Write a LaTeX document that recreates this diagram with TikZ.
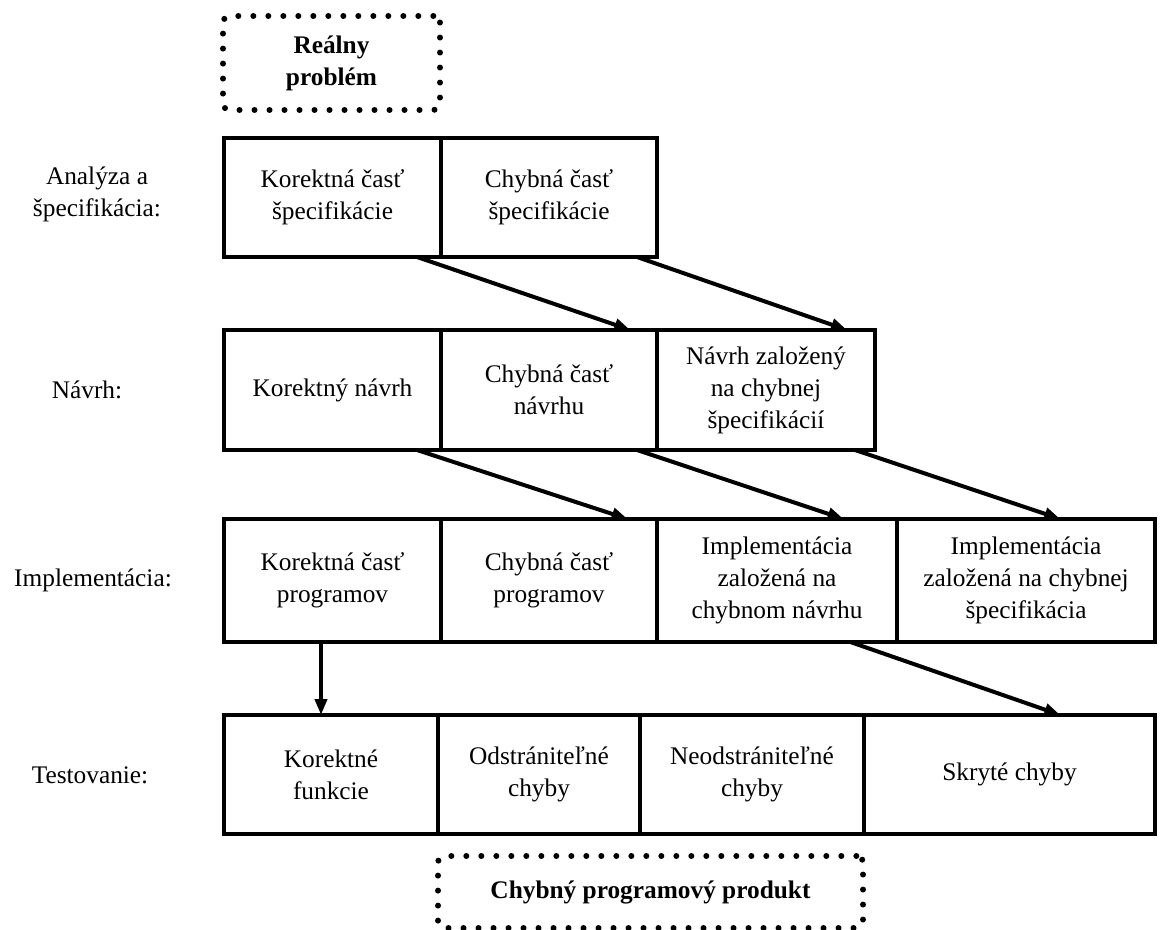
\documentclass[tikz,border=0pt]{standalone}
\usepackage{fontspec}
\setmainfont{Liberation Serif}
\usetikzlibrary{arrows.meta,calc}
% a cell given by its pixel corners: name, x1, y1, x2, y2, text
\newcommand\cellbox[6]{%
  \node[cell, minimum width={(#4-#2)*0.75pt}, minimum height={(#5-#3)*0.75pt}]
    (#1) at ({(#2+#4)/2},{(#3+#5)/2}) {#6};}
\begin{document}
\begin{tikzpicture}[x=0.75pt,y=-0.75pt,
  txt/.style={font=\fontsize{19}{24}\selectfont},
  cell/.style={txt, draw, line width=3pt, outer sep=0pt, inner sep=0pt, align=center},
  lab/.style={txt, align=center},
  dotbox/.style={draw, line width=4.5pt, dash pattern=on 0pt off 11.25pt,
    line cap=round, rounded corners=5pt, outer sep=0pt, inner sep=0pt, align=center,
    font=\fontsize{19}{24}\selectfont\bfseries},
  arr/.style={line width=3pt, -{Triangle[length=12pt,width=9pt]}}]
\useasboundingbox (0,0) rectangle (1165,930);

% starting point and final product
\node[dotbox, minimum width={217*0.75pt}, minimum height={94*0.75pt}] (real) at (331.5,63) {Reálny\\problém};
\node[dotbox, minimum width={425*0.75pt}, minimum height={72*0.75pt}] (prod) at (650.5,892) {Chybný programový produkt};

% phase labels
\node[lab] (l1) at (97,194) {Analýza a\\špecifikácia:};
\node[lab] (l2) at (87,390) {Návrh:};
\node[lab] (l3) at (93,580) {Implementácia:};
\node[lab] (l4) at (90,775) {Testovanie:};

% analysis and specification
\cellbox{a1}{224}{138}{441}{257}{Korektná časť\\špecifikácie}
\cellbox{a2}{441}{138}{657}{257}{Chybná časť\\špecifikácie}

% design
\cellbox{b1}{224}{330}{441}{450}{Korektný návrh}
\cellbox{b2}{441}{330}{657}{450}{Chybná časť\\návrhu}
\cellbox{b3}{657}{330}{875}{450}{Návrh založený\\na chybnej\\špecifikácií}

% implementation
\cellbox{c1}{224}{519}{441}{642}{Korektná časť\\programov}
\cellbox{c2}{441}{519}{657}{642}{Chybná časť\\programov}
\cellbox{c3}{657}{519}{897}{642}{Implementácia\\založená na\\chybnom návrhu}
\cellbox{c4}{897}{519}{1155}{642}{Implementácia\\založená na chybnej\\špecifikácia}

% testing
\cellbox{d1}{224}{715}{438}{834}{Korektné\\funkcie}
\cellbox{d2}{438}{715}{640}{834}{Odstrániteľné\\chyby}
\cellbox{d3}{640}{715}{864}{834}{Neodstrániteľné\\chyby}
\cellbox{d4}{864}{715}{1155}{834}{Skryté chyby}

% propagation of parts between phases
\draw[arr] ([xshift=-18pt]a1.south east) -- ([xshift=-20pt]b2.north east);
\draw[arr] ([xshift=-15pt]a2.south east) -- ([xshift=-21pt]b3.north east);
\draw[arr] ([xshift=-18pt]b1.south east) -- ([xshift=-22pt]c2.north east);
\draw[arr] ([xshift=-15pt]b2.south east) -- ([xshift=-40pt]c3.north east);
\draw[arr] ([xshift=-15pt]b3.south east) -- ([xshift=-71pt]c4.north east);
\draw[arr] ([xshift=-35pt]c3.south east) -- ([xshift=-71pt]d4.north east);
\draw[arr] (c1.south -| 321,0) -- (d1.north -| 321,0);
\end{tikzpicture}
\end{document}
